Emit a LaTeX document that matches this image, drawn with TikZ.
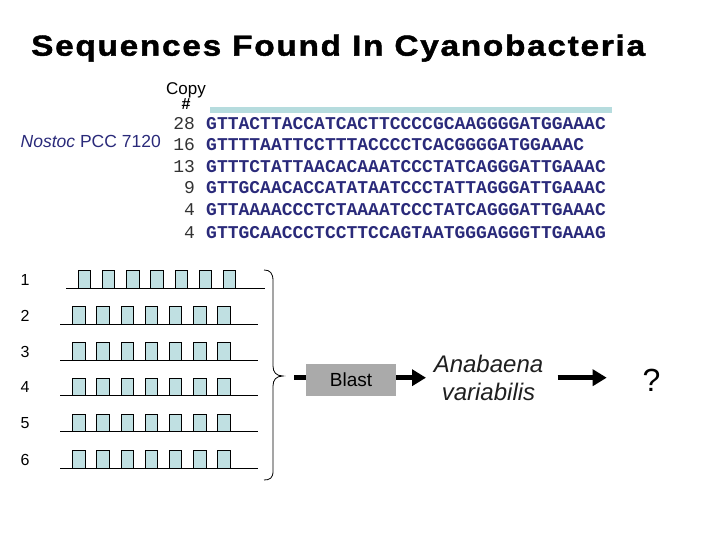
\documentclass[tikz,border=0pt]{standalone}
\usepackage{fontspec}
\setmainfont{Liberation Sans}
\newfontfamily\seqmono{Liberation Mono}
\newfontfamily\titlefont[LetterSpace=6,FakeStretch=1.15,FakeBold=1.5]{Liberation Sans}
\usetikzlibrary{arrows.meta}
\definecolor{navy}{RGB}{42,42,122}
\definecolor{boxblue}{RGB}{192,224,226}
\definecolor{barblue}{RGB}{182,220,222}
\definecolor{numgray}{RGB}{50,50,50}
\definecolor{blastgray}{RGB}{170,170,170}
\tikzset{
  seqtxt/.style={anchor=base west,inner sep=0pt,font=\seqmono\fontsize{18}{20}\selectfont\bfseries,text=navy},
  numtxt/.style={anchor=base east,inner sep=0pt,font=\seqmono\fontsize{18}{20}\selectfont,text=numgray},
  rowlbl/.style={inner sep=0pt,font=\fontsize{16}{18}\selectfont},
  rep/.style={draw=black,line width=0.9pt,fill=boxblue},
  baseline/.style={draw=black,line width=0.9pt},
  thickarrow/.style={line width=5pt,-{Triangle[length=14pt,width=16pt]}},
}
\begin{document}
\begin{tikzpicture}[x=1pt,y=-1pt]
\useasboundingbox (0,0) rectangle (720,540);
% title
\node[anchor=base west,inner sep=0pt,font=\titlefont\fontsize{29}{31}\selectfont\bfseries] (title) at (31,55.7) {Sequences Found In Cyanobacteria};
% copy header
\node[inner sep=0pt,anchor=base,font=\fontsize{17}{19}\selectfont] (copy) at (186,95) {Copy};
\node[inner sep=0pt,anchor=base,font=\fontsize{16}{18}\selectfont\bfseries] (hash) at (186,110) {\#};
\fill[barblue] (210,107.5) rectangle (612,113.5);
% organism
\node[anchor=base west,inner sep=0pt,text=navy,font=\fontsize{17.5}{20}\selectfont] (nostoc) at (20.5,147.3) {\textit{Nostoc} PCC 7120};
% sequences
\node[numtxt] (n1) at (195.2,129.5) {28};
\node[seqtxt] (s1) at (206,129.5) {GTTACTTACCATCACTTCCCCGCAAGGGGATGGAAAC};
\node[numtxt] (n2) at (195.2,151) {16};
\node[seqtxt] (s2) at (206,151) {GTTTTAATTCCTTTACCCCTCACGGGGATGGAAAC};
\node[numtxt] (n3) at (195.2,172.5) {13};
\node[seqtxt] (s3) at (206,172.5) {GTTTCTATTAACACAAATCCCTATCAGGGATTGAAAC};
\node[numtxt] (n4) at (195.2,194) {9};
\node[seqtxt] (s4) at (206,194) {GTTGCAACACCATATAATCCCTATTAGGGATTGAAAC};
\node[numtxt] (n5) at (195.2,215.5) {4};
\node[seqtxt] (s5) at (206,215.5) {GTTAAAACCCTCTAAAATCCCTATCAGGGATTGAAAC};
\node[numtxt] (n6) at (195.2,239) {4};
\node[seqtxt] (s6) at (206,239) {GTTGCAACCCTCCTTCCAGTAATGGGAGGGTTGAAAG};
% repeat rows
\node[rowlbl] (r1) at (25,279.5) {1};
\draw[baseline] (66,288.3) -- (265,288.3);
\foreach \i in {0,...,6} {
  \draw[rep] (78.3+24.2*\i,270.7) rectangle (90.6+24.2*\i,288.3);
}
\foreach \k/\y in {2/324,3/360,4/395.7,5/431.7,6/468.3} {
  \node[rowlbl] (r\k) at (25,\y-8.5) {\k};
  \draw[baseline] (60,\y) -- (258,\y);
  \foreach \i in {0,...,6} {
    \draw[rep] (72.7+24.2*\i,\y-17.5) rectangle (85+24.2*\i,\y);
  }
}
% brace
\draw[line width=0.8pt] (264,270) .. controls (270,270) and (273,273) .. (273,281)
  -- (273,366) .. controls (273,372) and (276,376) .. (283,376)
  .. controls (276,376) and (273,380) .. (273,386)
  -- (273,471) .. controls (273,478) and (270,480) .. (264,480);
% blast
\coordinate (bt) at (294.3,377.7);
\node[draw=none,fill=blastgray,minimum width=90pt,minimum height=32.5pt,inner sep=0pt,font=\fontsize{19}{21}\selectfont] (blast) at (351,380.2) {Blast};
\draw[line width=5pt] (bt) -- (blast.west |- bt);
\coordinate (a1e) at (426,377.7);
\draw[thickarrow] (blast.east |- bt) -- (a1e);
\node[align=center,inner sep=0pt,text=black!88,font=\fontsize{24}{28.4}\selectfont\itshape] (ana) at (488.5,378) {Anabaena\\variabilis};
\coordinate (a2s) at (557.7,377.7);
\coordinate (a2e) at (606.7,377.7);
\draw[thickarrow] (a2s) -- (a2e);
\node[anchor=base,inner sep=0pt,font=\fontsize{32}{34}\selectfont] (q) at (651.5,391.7) {?};
\end{tikzpicture}
\end{document}
